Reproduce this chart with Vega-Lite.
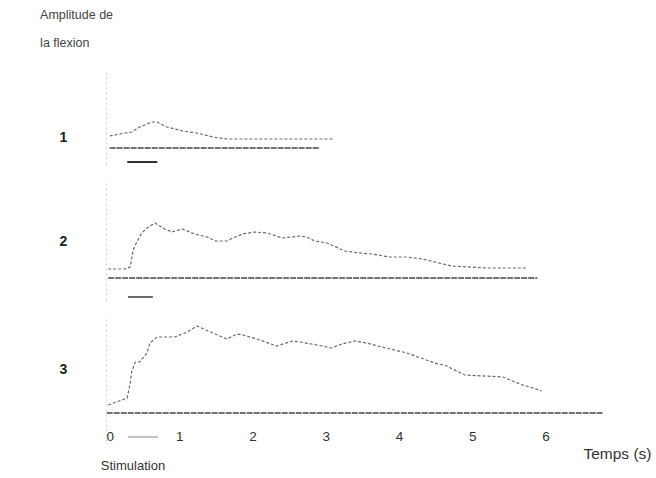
{
  "$schema": "https://vega.github.io/schema/vega-lite/v6.json",
  "background": "white",
  "padding": {"left": 40, "top": 8, "right": 2, "bottom": 5},
  "title": {"text": ["Amplitude de", "la flexion"], "anchor": "start", "frame": "bounds", "dx": -19, "fontSize": 12.5, "fontWeight": "normal", "font": "Liberation Sans", "color": "#444", "lineHeight": 28, "offset": 21},
  "datasets": {
    "traces": [
      {"trace": 1, "kind": "réponse", "t": 0.05, "amp": 12},
      {"trace": 1, "kind": "réponse", "t": 0.26, "amp": 15},
      {"trace": 1, "kind": "réponse", "t": 0.35, "amp": 16},
      {"trace": 1, "kind": "réponse", "t": 0.46, "amp": 21},
      {"trace": 1, "kind": "réponse", "t": 0.63, "amp": 26},
      {"trace": 1, "kind": "réponse", "t": 0.70, "amp": 26},
      {"trace": 1, "kind": "réponse", "t": 0.83, "amp": 21},
      {"trace": 1, "kind": "réponse", "t": 1.05, "amp": 17},
      {"trace": 1, "kind": "réponse", "t": 1.24, "amp": 15},
      {"trace": 1, "kind": "réponse", "t": 1.46, "amp": 11},
      {"trace": 1, "kind": "réponse", "t": 1.65, "amp": 9},
      {"trace": 1, "kind": "réponse", "t": 3.10, "amp": 9},
      {"trace": 1, "kind": "base", "t": 0.05, "amp": 0},
      {"trace": 1, "kind": "base", "t": 2.92, "amp": 0},
      {"trace": 2, "kind": "réponse", "t": 0.03, "amp": 9},
      {"trace": 2, "kind": "réponse", "t": 0.26, "amp": 9},
      {"trace": 2, "kind": "réponse", "t": 0.33, "amp": 11},
      {"trace": 2, "kind": "réponse", "t": 0.34, "amp": 15},
      {"trace": 2, "kind": "réponse", "t": 0.37, "amp": 28},
      {"trace": 2, "kind": "réponse", "t": 0.42, "amp": 36},
      {"trace": 2, "kind": "réponse", "t": 0.49, "amp": 45},
      {"trace": 2, "kind": "réponse", "t": 0.56, "amp": 50},
      {"trace": 2, "kind": "réponse", "t": 0.67, "amp": 55},
      {"trace": 2, "kind": "réponse", "t": 0.80, "amp": 49},
      {"trace": 2, "kind": "réponse", "t": 0.90, "amp": 46},
      {"trace": 2, "kind": "réponse", "t": 1.04, "amp": 49},
      {"trace": 2, "kind": "réponse", "t": 1.21, "amp": 44},
      {"trace": 2, "kind": "réponse", "t": 1.38, "amp": 41},
      {"trace": 2, "kind": "réponse", "t": 1.50, "amp": 37},
      {"trace": 2, "kind": "réponse", "t": 1.65, "amp": 37},
      {"trace": 2, "kind": "réponse", "t": 1.73, "amp": 40},
      {"trace": 2, "kind": "réponse", "t": 1.87, "amp": 44},
      {"trace": 2, "kind": "réponse", "t": 2.03, "amp": 46},
      {"trace": 2, "kind": "réponse", "t": 2.20, "amp": 45},
      {"trace": 2, "kind": "réponse", "t": 2.41, "amp": 40},
      {"trace": 2, "kind": "réponse", "t": 2.65, "amp": 42},
      {"trace": 2, "kind": "réponse", "t": 2.74, "amp": 41},
      {"trace": 2, "kind": "réponse", "t": 2.85, "amp": 37},
      {"trace": 2, "kind": "réponse", "t": 3.02, "amp": 35},
      {"trace": 2, "kind": "réponse", "t": 3.26, "amp": 27},
      {"trace": 2, "kind": "réponse", "t": 3.47, "amp": 25},
      {"trace": 2, "kind": "réponse", "t": 3.63, "amp": 24},
      {"trace": 2, "kind": "réponse", "t": 3.87, "amp": 21},
      {"trace": 2, "kind": "réponse", "t": 4.11, "amp": 21},
      {"trace": 2, "kind": "réponse", "t": 4.32, "amp": 19},
      {"trace": 2, "kind": "réponse", "t": 4.49, "amp": 16},
      {"trace": 2, "kind": "réponse", "t": 4.72, "amp": 12},
      {"trace": 2, "kind": "réponse", "t": 5.20, "amp": 10},
      {"trace": 2, "kind": "réponse", "t": 5.47, "amp": 10},
      {"trace": 2, "kind": "réponse", "t": 5.76, "amp": 10},
      {"trace": 2, "kind": "base", "t": 0.03, "amp": 0},
      {"trace": 2, "kind": "base", "t": 5.89, "amp": 0},
      {"trace": 3, "kind": "réponse", "t": 0.03, "amp": 8},
      {"trace": 3, "kind": "réponse", "t": 0.29, "amp": 15},
      {"trace": 3, "kind": "réponse", "t": 0.33, "amp": 30},
      {"trace": 3, "kind": "réponse", "t": 0.35, "amp": 41},
      {"trace": 3, "kind": "réponse", "t": 0.40, "amp": 51},
      {"trace": 3, "kind": "réponse", "t": 0.46, "amp": 51},
      {"trace": 3, "kind": "réponse", "t": 0.56, "amp": 60},
      {"trace": 3, "kind": "réponse", "t": 0.60, "amp": 70},
      {"trace": 3, "kind": "réponse", "t": 0.70, "amp": 76},
      {"trace": 3, "kind": "réponse", "t": 0.78, "amp": 76},
      {"trace": 3, "kind": "réponse", "t": 0.94, "amp": 76},
      {"trace": 3, "kind": "réponse", "t": 1.11, "amp": 81},
      {"trace": 3, "kind": "réponse", "t": 1.24, "amp": 87},
      {"trace": 3, "kind": "réponse", "t": 1.46, "amp": 80},
      {"trace": 3, "kind": "réponse", "t": 1.65, "amp": 74},
      {"trace": 3, "kind": "réponse", "t": 1.79, "amp": 79},
      {"trace": 3, "kind": "réponse", "t": 1.87, "amp": 78},
      {"trace": 3, "kind": "réponse", "t": 2.06, "amp": 74},
      {"trace": 3, "kind": "réponse", "t": 2.33, "amp": 67},
      {"trace": 3, "kind": "réponse", "t": 2.55, "amp": 72},
      {"trace": 3, "kind": "réponse", "t": 2.65, "amp": 71},
      {"trace": 3, "kind": "réponse", "t": 2.88, "amp": 68},
      {"trace": 3, "kind": "réponse", "t": 3.08, "amp": 65},
      {"trace": 3, "kind": "réponse", "t": 3.22, "amp": 69},
      {"trace": 3, "kind": "réponse", "t": 3.40, "amp": 72},
      {"trace": 3, "kind": "réponse", "t": 3.56, "amp": 70},
      {"trace": 3, "kind": "réponse", "t": 3.71, "amp": 67},
      {"trace": 3, "kind": "réponse", "t": 3.94, "amp": 63},
      {"trace": 3, "kind": "réponse", "t": 4.11, "amp": 60},
      {"trace": 3, "kind": "réponse", "t": 4.26, "amp": 56},
      {"trace": 3, "kind": "réponse", "t": 4.49, "amp": 50},
      {"trace": 3, "kind": "réponse", "t": 4.65, "amp": 47},
      {"trace": 3, "kind": "réponse", "t": 4.90, "amp": 38},
      {"trace": 3, "kind": "réponse", "t": 5.42, "amp": 36},
      {"trace": 3, "kind": "réponse", "t": 5.55, "amp": 32},
      {"trace": 3, "kind": "réponse", "t": 5.69, "amp": 28},
      {"trace": 3, "kind": "réponse", "t": 5.83, "amp": 25},
      {"trace": 3, "kind": "réponse", "t": 5.95, "amp": 22},
      {"trace": 3, "kind": "base", "t": 0.01, "amp": 0},
      {"trace": 3, "kind": "base", "t": 6.78, "amp": 0}
    ],
    "stim": [
      {"trace": 1, "start": 0.29, "end": 0.70, "level": -14},
      {"trace": 2, "start": 0.30, "end": 0.64, "level": -19},
      {"trace": 3, "start": 0.30, "end": 0.71, "level": -24}
    ]
  },
  "spacing": 16,
  "resolve": {"scale": {"y": "independent"}},
  "vconcat": [
    {
      "width": 498, "height": 94,
      "encoding": {
        "x": {"field": "t", "type": "quantitative", "scale": {"domain": [0, 6.8]}, "axis": null},
        "y": {"field": "amp", "type": "quantitative", "scale": {"domain": [-16, 78]},
              "axis": {"title": "1", "titleAngle": 0, "titleX": -43, "titleY": 67, "titleAlign": "center", "titleBaseline": "middle", "titleFontSize": 14, "titleFontWeight": "bold", "titleColor": "#222", "labels": false, "ticks": false, "domain": true, "domainColor": "#d0d0d0", "domainDash": [2, 3], "grid": false}}
      },
      "layer": [
        {
          "data": {"name": "traces"},
          "transform": [{"filter": "datum.trace == 1 && datum.kind == 'réponse'"}],
          "mark": {"type": "line", "color": "#6a6a6a", "strokeWidth": 1.2, "strokeDash": [3, 2]}
        },
        {
          "data": {"name": "traces"},
          "transform": [{"filter": "datum.trace == 1 && datum.kind == 'base'"}],
          "mark": {"type": "line", "color": "#444", "strokeWidth": 1.4, "strokeDash": [6, 1]}
        },
        {
          "data": {"name": "stim"},
          "transform": [{"filter": "datum.trace == 1"}],
          "mark": {"type": "rule", "color": "#333", "strokeWidth": 2},
          "encoding": {
            "x": {"field": "start", "type": "quantitative", "axis": null},
            "x2": {"field": "end"},
            "y": {"field": "level", "type": "quantitative"}
          }
        }
      ]
    },
    {
      "width": 498, "height": 120,
      "encoding": {
        "x": {"field": "t", "type": "quantitative", "scale": {"domain": [0, 6.8]}, "axis": null},
        "y": {"field": "amp", "type": "quantitative", "scale": {"domain": [-22, 98]},
              "axis": {"title": "2", "titleAngle": 0, "titleX": -43, "titleY": 61, "titleAlign": "center", "titleBaseline": "middle", "titleFontSize": 14, "titleFontWeight": "bold", "titleColor": "#222", "labels": false, "ticks": false, "domain": true, "domainColor": "#d0d0d0", "domainDash": [2, 3], "grid": false}}
      },
      "layer": [
        {
          "data": {"name": "traces"},
          "transform": [{"filter": "datum.trace == 2 && datum.kind == 'réponse'"}],
          "mark": {"type": "line", "color": "#6a6a6a", "strokeWidth": 1.2, "strokeDash": [3, 2]}
        },
        {
          "data": {"name": "traces"},
          "transform": [{"filter": "datum.trace == 2 && datum.kind == 'base'"}],
          "mark": {"type": "line", "color": "#444", "strokeWidth": 1.4, "strokeDash": [6, 1]}
        },
        {
          "data": {"name": "stim"},
          "transform": [{"filter": "datum.trace == 2"}],
          "mark": {"type": "rule", "color": "#444", "strokeWidth": 1.6},
          "encoding": {
            "x": {"field": "start", "type": "quantitative", "axis": null},
            "x2": {"field": "end"},
            "y": {"field": "level", "type": "quantitative"}
          }
        }
      ]
    },
    {
      "width": 498, "height": 125,
      "encoding": {
        "x": {"field": "t", "type": "quantitative", "scale": {"domain": [0, 6.8]},
              "axis": {"values": [0, 1, 2, 3, 4, 5, 6], "format": "d", "ticks": false, "domain": false, "grid": false, "offset": -13.5, "labelPadding": 2, "labelFontSize": 13.5, "labelColor": "#333", "labelFont": "Liberation Sans",
                       "title": "Temps (s)", "titleX": 545, "titleY": 26, "titleAlign": "right", "titleBaseline": "middle", "titleFontSize": 15.5, "titleFontWeight": "normal", "titleColor": "#333"}},
        "y": {"field": "amp", "type": "quantitative", "scale": {"domain": [-28, 97]},
              "axis": {"title": "3", "titleAngle": 0, "titleX": -43, "titleY": 53, "titleAlign": "center", "titleBaseline": "middle", "titleFontSize": 14, "titleFontWeight": "bold", "titleColor": "#222", "labels": false, "ticks": false, "domain": true, "domainColor": "#d0d0d0", "domainDash": [2, 3], "grid": false}}
      },
      "layer": [
        {
          "data": {"name": "traces"},
          "transform": [{"filter": "datum.trace == 3 && datum.kind == 'réponse'"}],
          "mark": {"type": "line", "color": "#6a6a6a", "strokeWidth": 1.2, "strokeDash": [3, 2]}
        },
        {
          "data": {"name": "traces"},
          "transform": [{"filter": "datum.trace == 3 && datum.kind == 'base'"}],
          "mark": {"type": "line", "color": "#444", "strokeWidth": 1.4, "strokeDash": [6, 1]}
        },
        {
          "data": {"name": "stim"},
          "transform": [{"filter": "datum.trace == 3"}],
          "mark": {"type": "rule", "color": "#999", "strokeWidth": 1.2},
          "encoding": {
            "x": {"field": "start", "type": "quantitative"},
            "x2": {"field": "end"},
            "y": {"field": "level", "type": "quantitative"}
          }
        },
        {
          "data": {"name": "stim"},
          "transform": [{"filter": "datum.trace == 3"}],
          "mark": {"type": "text", "text": "Stimulation", "align": "center", "baseline": "middle", "dx": 5, "dy": 29, "fontSize": 13, "color": "#333", "font": "Liberation Sans"},
          "encoding": {
            "x": {"field": "start", "type": "quantitative"},
            "y": {"field": "level", "type": "quantitative"}
          }
        }
      ]
    }
  ],
  "config": {"view": {"stroke": null}, "axis": {"grid": false}, "font": "Liberation Sans"}
}
